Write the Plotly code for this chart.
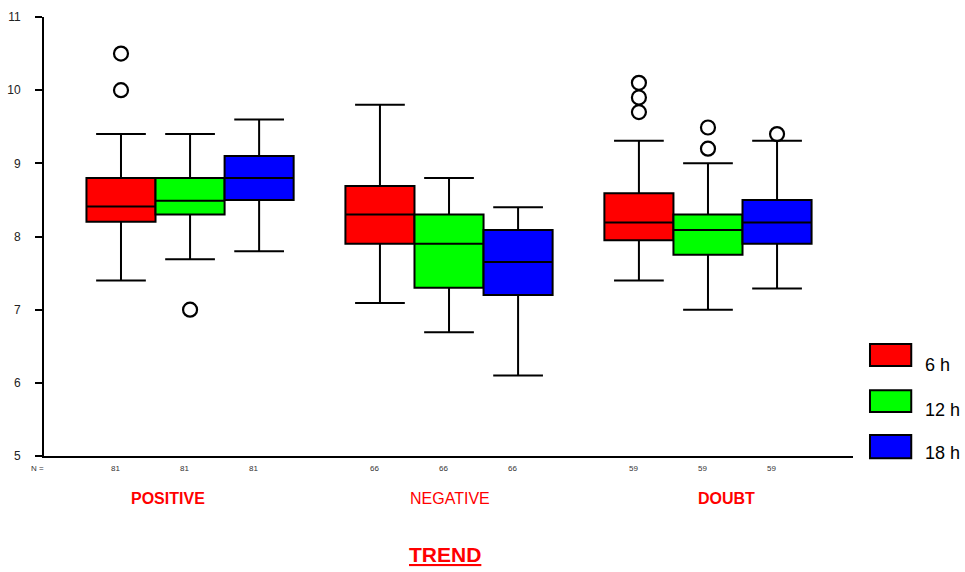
import plotly.graph_objects as go

groups = ["POSITIVE", "NEGATIVE", "DOUBT"]
group_bold = [True, False, True]
series = ["6 h", "12 h", "18 h"]
colors = ["#ff0000", "#00ff00", "#0000ff"]
n_counts = [81, 66, 59]

q1 = {"6 h": [8.2, 7.9, 7.95], "12 h": [8.3, 7.3, 7.75], "18 h": [8.5, 7.2, 7.9]}
med = {"6 h": [8.41, 8.3, 8.19], "12 h": [8.49, 7.9, 8.09], "18 h": [8.8, 7.65, 8.19]}
q3 = {"6 h": [8.8, 8.69, 8.59], "12 h": [8.8, 8.3, 8.3], "18 h": [9.1, 8.09, 8.5]}
lo = {"6 h": [7.4, 7.09, 7.4], "12 h": [7.69, 6.69, 7.0], "18 h": [7.8, 6.1, 7.29]}
hi = {"6 h": [9.4, 9.8, 9.31], "12 h": [9.4, 8.8, 9.0], "18 h": [9.6, 8.4, 9.31]}
outliers = {
    "6 h": [[10.5, 10.0], [], [10.1, 9.9, 9.7]],
    "12 h": [[7.0], [], [9.49, 9.2]],
    "18 h": [[], [], [9.4]],
}

yticks = [5, 6, 7, 8, 9, 10, 11]

BW = 0.2667
fig = go.Figure()
for k, s in enumerate(series):
    xs = [g + (k - 1) * BW for g in range(len(groups))]
    fig.add_trace(go.Box(
        x=xs, q1=q1[s], median=med[s], q3=q3[s],
        lowerfence=lo[s], upperfence=hi[s],
        width=BW, whiskerwidth=0.72,
        fillcolor=colors[k], line=dict(color="black", width=2),
        boxpoints=False, name=s, showlegend=False,
    ))
    ox, oy = [], []
    for g, vals in enumerate(outliers[s]):
        for v in vals:
            ox.append(xs[g]); oy.append(v)
    fig.add_trace(go.Scatter(
        x=ox, y=oy, mode="markers", showlegend=False,
        marker=dict(symbol="circle-open", size=14, color="black", line=dict(width=2.2)),
    ))

annotations = []
# N labels
annotations.append(dict(x=0.003, y=-0.0296, xref="paper", yref="paper", text="N =",
                        showarrow=False, xanchor="right", yanchor="middle",
                        font=dict(size=8, color="#333")))
for k in range(len(series)):
    for g in range(len(groups)):
        annotations.append(dict(x=g + (k - 1) * BW - 0.02, y=-0.0296, xref="x", yref="paper",
                                text=str(n_counts[g]), showarrow=False,
                                xanchor="center", yanchor="middle",
                                font=dict(size=8, color="#333")))
# group labels
gx_off = [-0.085, 0.005, 0.07]
for g, name in enumerate(groups):
    txt = f"<b>{name}</b>" if group_bold[g] else name
    annotations.append(dict(x=g + gx_off[g], y=-0.0957, xref="x", yref="paper", text=txt,
                            showarrow=False, xanchor="center", yanchor="middle",
                            font=dict(size=16, color="#ff0000")))
# title
annotations.append(dict(x=0.496, y=-0.2255, xref="paper", yref="paper",
                        text="<b><u>TREND</u></b>", showarrow=False,
                        xanchor="center", yanchor="middle",
                        font=dict(size=21, color="#ff0000")))

# custom legend
shapes = []
leg_y = [(0.205, 0.255), (0.100, 0.150), (-0.005, 0.048)]
leg_text_y = [0.207, 0.105, 0.007]
for k, s in enumerate(series):
    y0, y1 = leg_y[k]
    shapes.append(dict(type="rect", xref="paper", yref="paper", x0=1.021, x1=1.072,
                       y0=y0, y1=y1, fillcolor=colors[k], line=dict(color="black", width=2)))
    annotations.append(dict(x=1.086, y=leg_text_y[k], xref="paper", yref="paper", text=s,
                            showarrow=False, xanchor="left", yanchor="middle",
                            font=dict(size=18, color="black")))

fig.update_layout(
    width=965, height=572,
    margin=dict(l=44, r=112, t=17, b=116),
    paper_bgcolor="white", plot_bgcolor="white",
    font=dict(family="Liberation Sans, Arial, sans-serif"),
    boxmode="overlay", showlegend=False,
    annotations=annotations, shapes=shapes,
    xaxis=dict(range=[-0.564, 2.56], showgrid=False, zeroline=False,
               showline=True, linecolor="black", linewidth=2, automargin=False,
               showticklabels=False, ticks="",
               minor=dict(ticks="outside", tick0=0, dtick=1, ticklen=6,
                          tickwidth=2, tickcolor="black", showgrid=False)),
    yaxis=dict(range=[5, 11], tickvals=yticks, showgrid=False, zeroline=False,
               showline=True, linecolor="black", linewidth=2, automargin=False,
               ticks="outside", ticklen=7, tickwidth=2, tickcolor="black",
               tickfont=dict(size=12, color="#222"), ticklabelstandoff=12),
)

# remove the page's default body margin so the 965x572 figure fills the window
fig.write_html(
    "out.html",
    config={"displayModeBar": False},
    post_script="document.body.style.margin='0';document.body.style.overflow='hidden';",
)
